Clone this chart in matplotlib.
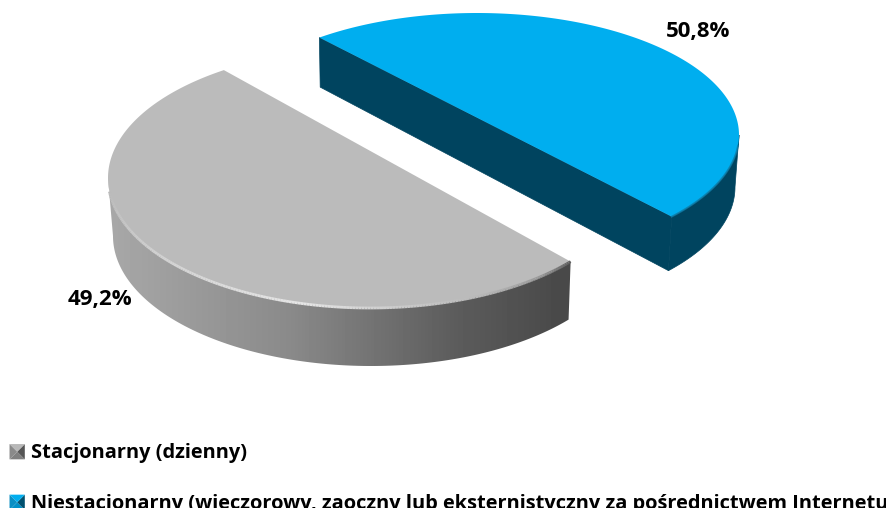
import numpy as np
import matplotlib
matplotlib.use("Agg")
import matplotlib.pyplot as plt
from matplotlib.collections import LineCollection
from matplotlib.legend_handler import HandlerBase
from matplotlib.patches import Polygon, Patch

categories = ["Stacjonarny (dzienny)",
              "Niestacjonarny (wieczorowy, zaoczny lub eksternistyczny za pośrednictwem Internetu"]
shares = [49.2, 50.8]
share_labels = ["49,2%", "50,8%"]

FONT = "Open Sans"
W, H = 887, 508
fig = plt.figure(figsize=(W / 100, H / 100), dpi=100, facecolor="white")
ax = fig.add_axes([0, 0, 1, 1])
ax.set_xlim(0, W)
ax.set_ylim(H, 0)
ax.axis("off")


def arc(c, a, b, t0, t1, n=240):
    t = np.radians(np.linspace(t0, t1, n))
    return np.column_stack([c[0] + a * np.cos(t), c[1] - b * np.sin(t)])


sweeps = [360 * s / sum(shares) for s in shares]

# gray slice: perspective makes the visible sweep slightly wider than the true one
G_TOP = ((370, 178), 262, 130)
G_LOW = ((371, 236), 258, 130)
g_start = 123.9
g_end = g_start + sweeps[0] * 1.107
g_top = arc(*G_TOP, g_start, g_end)
g_up_side = arc(*G_TOP, 180, g_end)
g_lo_side = arc(*G_LOW, 180, g_end)
g_band = Polygon(np.vstack([g_up_side, g_lo_side[::-1]]), closed=True, fc="none", ec="none")
ax.add_patch(g_band)
xs = np.linspace(100, 580, 480)
ramp = np.interp(xs, [113, 290, 457, 556], [0.655, 0.54, 0.36, 0.29])
im = ax.imshow(ramp[None, :], extent=(100, 580, 375, 100), cmap="gray", vmin=0, vmax=1,
               aspect="auto", zorder=1)
im.set_clip_path(g_band)
ax.set_xlim(0, W)
ax.set_ylim(H, 0)
ax.add_patch(Polygon(g_top, closed=True, fc="#bbbbbb", ec="none", zorder=3))

# gray rim highlight
rim_t = np.linspace(186, g_end, 200)
rim = arc(*G_TOP, 186, g_end, 200)
segs = np.stack([rim[:-1], rim[1:]], axis=1)
lv = np.interp(rim_t[:-1], [186, 195, 215, 255, 275, 295, 310, g_end],
               [0.73, 0.76, 0.82, 0.90, 0.80, 0.72, 0.60, 0.36])
ax.add_collection(LineCollection(segs, colors=[(v, v, v) for v in lv], linewidths=2.0,
                                 zorder=4, capstyle="butt"))

# blue slice
B_TOP = ((477, 135), 262, 122)
B_LOW = ((476, 187), 259, 125)
b_start = -42.0
b_end = b_start + sweeps[1] * 0.924
b_top = arc(*B_TOP, b_start, b_end)
b_up_side = arc(*B_TOP, b_start, 0)
b_lo_side = arc(*B_LOW, b_start, 0)
DARK = "#00445f"
ax.add_patch(Polygon(np.vstack([b_up_side, b_lo_side[::-1]]), closed=True, fc=DARK, ec=DARK, lw=0.5, zorder=1))
ax.add_patch(Polygon([b_top[0], b_top[-1], arc(*B_LOW, b_end, b_end, 1)[0], b_lo_side[0]],
                     closed=True, fc=DARK, ec=DARK, lw=0.5, zorder=1))
ax.add_patch(Polygon(b_top, closed=True, fc="#00aeef", ec="none", zorder=3))
rim2 = arc(*B_TOP, b_start, -5, 60)
ax.plot(rim2[:, 0], rim2[:, 1], color="#0d7ba6", lw=1.3, alpha=0.8, zorder=4)

# value labels
ax.text(100, 300, share_labels[0], ha="center", va="center", fontsize=16,
        fontweight="bold", family=FONT, color="black", zorder=5)
ax.text(698, 31, share_labels[1], ha="center", va="center", fontsize=16,
        fontweight="bold", family=FONT, color="black", zorder=5)


class BevelHandler(HandlerBase):
    def __init__(self, shades):
        super().__init__()
        self.shades = shades

    def create_artists(self, legend, orig, x, y, w, h, fontsize, trans):
        s = 11
        x0 = x + w - s
        y0 = y + (h - s) / 2 - 0.5
        cx, cy = x0 + s / 2, y0 + s / 2
        corners = [(x0, y0), (x0 + s, y0), (x0 + s, y0 + s), (x0, y0 + s)]
        out = []
        for i, col in enumerate(self.shades):
            out.append(Polygon([corners[i], corners[(i + 1) % 4], (cx, cy)],
                               closed=True, fc=col, ec="none", transform=trans))
        return out


h1, h2 = Patch(label=categories[0]), Patch(label=categories[1])
leg = ax.legend(
    handles=[h1, h2],
    handler_map={h1: BevelHandler(["#808080", "#555555", "#b8b8b8", "#8a8a8a"]),
                 h2: BevelHandler(["#0090c8", "#00506f", "#00aeef", "#0a8fc4"])},
    loc="upper left", bbox_to_anchor=(-4 / W, 1 - 443 / H), bbox_transform=ax.transAxes,
    frameon=False, borderpad=0, borderaxespad=0, handlelength=1.44, handletextpad=0.3,
    labelspacing=1.53, prop={"family": FONT, "weight": "bold", "size": 14.4},
)

fig.savefig("out.png", dpi=100, facecolor="white")
